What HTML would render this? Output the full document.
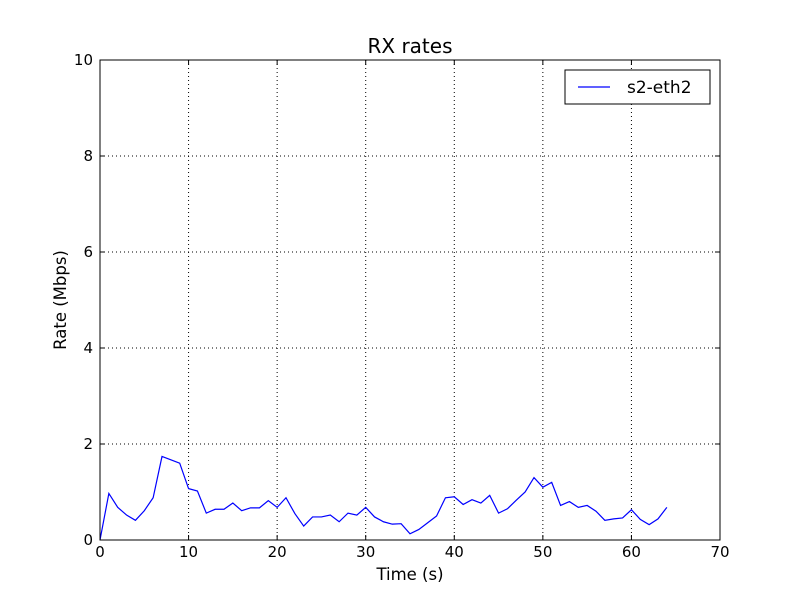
<!DOCTYPE html>
<html><head><meta charset="utf-8"><style>
body{margin:0;background:#fff;}
svg{display:block;font-family:"DejaVu Sans","Liberation Sans",sans-serif;}
</style></head><body>
<svg id="chart" width="800" height="600">
<rect width="800" height="600" fill="#fff"/>
<g id="grid"></g>
<g id="ticks"></g>
<path id="series" fill="none" stroke="#0000ff" stroke-width="1.2"/>
<rect x="100" y="60" width="620" height="480" fill="none" stroke="#000" stroke-width="1"/>
<text x="410" y="53" font-size="20" text-anchor="middle">RX rates</text>
<text x="410" y="580" font-size="16.5" text-anchor="middle">Time (s)</text>
<text transform="translate(66,300) rotate(-90)" font-size="16.5" text-anchor="middle">Rate (Mbps)</text>
<g>
<rect x="565" y="70" width="145" height="34" fill="#fff" stroke="#000"/>
<line x1="578" y1="87" x2="610" y2="87" stroke="#0000ff" stroke-width="1.2"/>
<text x="627" y="93" font-size="17">s2-eth2</text>
</g>
</svg>
<script>
const times=[0,1,2,3,4,5,6,7,8,9,10,11,12,13,14,15,16,17,18,19,20,21,22,23,24,25,26,27,28,29,30,31,32,33,34,35,36,37,38,39,40,41,42,43,44,45,46,47,48,49,50,51,52,53,54,55,56,57,58,59,60,61,62,63,64];
const rates=[0,0.97,0.68,0.52,0.41,0.61,0.88,1.74,1.67,1.6,1.07,1.02,0.56,0.64,0.64,0.77,0.61,0.67,0.67,0.82,0.68,0.88,0.55,0.29,0.48,0.48,0.52,0.38,0.56,0.52,0.68,0.48,0.38,0.33,0.34,0.13,0.22,0.36,0.5,0.88,0.9,0.74,0.84,0.77,0.93,0.56,0.65,0.83,1.0,1.3,1.1,1.2,0.72,0.8,0.68,0.72,0.6,0.41,0.44,0.46,0.63,0.43,0.32,0.44,0.68];
const xTicks=[0,10,20,30,40,50,60,70];
const yTicks=[0,2,4,6,8,10];
const NS="http://www.w3.org/2000/svg";
const X=v=>100+v*620/70, Y=v=>540-v*48;
const grid=document.getElementById('grid'), ticks=document.getElementById('ticks');
function mk(tag,attrs,parent,txt){const e=document.createElementNS(NS,tag);for(const k in attrs)e.setAttribute(k,attrs[k]);if(txt!==undefined)e.textContent=txt;parent.appendChild(e);return e;}
xTicks.forEach(t=>{const x=X(t);
 const g=mk('line',{x1:x,y1:60,x2:x,y2:540,stroke:'#000','stroke-dasharray':'1,3','stroke-width':1},grid);
 
 
 mk('line',{x1:x,y1:540,x2:x,y2:535,stroke:'#000'},ticks);
 mk('line',{x1:x,y1:60,x2:x,y2:65,stroke:'#000'},ticks);
 const l=mk('text',{x:x,y:557,'font-size':15,'text-anchor':'middle'},ticks,String(t));
 
 
});
yTicks.forEach(t=>{const y=Y(t);
 const g=mk('line',{x1:100,y1:y,x2:720,y2:y,stroke:'#000','stroke-dasharray':'1,3','stroke-width':1},grid);
 
 
 mk('line',{x1:100,y1:y,x2:105,y2:y,stroke:'#000'},ticks);
 mk('line',{x1:720,y1:y,x2:715,y2:y,stroke:'#000'},ticks);
 const l=mk('text',{x:93,y:y+5,'font-size':15,'text-anchor':'end'},ticks,String(t));
 
 
});
document.getElementById('series').setAttribute('d',times.map((t,i)=>(i?'L':'M')+X(t).toFixed(2)+','+Y(rates[i]).toFixed(2)).join(''));
</script>
</body></html>
